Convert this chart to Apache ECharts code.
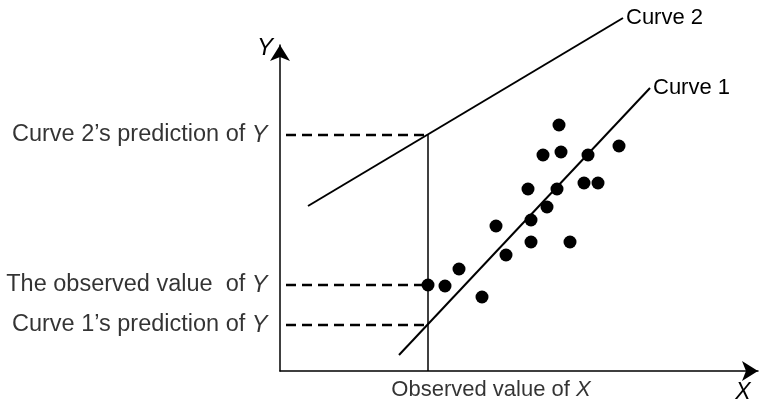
<!DOCTYPE html>
<html>
<head>
<meta charset="utf-8">
<script src="https://cdn.jsdelivr.net/npm/echarts@6/dist/echarts.min.js"></script>
<style>
  html, body { margin: 0; padding: 0; background: #fff; }
  #chart { width: 766px; height: 409px; }
</style>
</head>
<body>
<div id="chart"></div>
<script>
// observed points (x, y) in plot units
const dotX = [148, 165, 179, 202, 216, 226, 248, 251, 251, 267, 277, 263, 281, 279, 290, 304, 318, 308, 339];
const dotY = [86, 85, 102, 74, 145, 116, 182, 151, 129, 164, 182, 216, 219, 246, 129, 188, 188, 216, 225];

// the two fitted lines, start and end point
const curve1 = [[119, 16], [370, 283]];
const curve2 = [[28, 165], [343, 353]];

// observed X and the guide lines to the Y axis
const obsX = 148;
const guideStartX = 6;
const guideY = [236, 86, 46];
const guideText = [
    'Curve 2\u2019s prediction of {i|Y}',
    'The observed value  of {i|Y}',
    'Curve 1\u2019s prediction of {i|Y}'
];
const xText = 'Observed value of {i|X}';

const FONT = "'Liberation Sans', Arial, sans-serif";

function italic(size) {
    return { i: { fontStyle: 'italic', fontSize: size, fontFamily: FONT, color: '#000' } };
}

var chart = echarts.init(document.getElementById('chart'));

var series = [];

// curves
[['Curve 1', curve1], ['Curve 2', curve2]].forEach(function (c) {
    series.push({
        name: c[0],
        type: 'line',
        data: c[1],
        symbol: 'none',
        silent: true,
        clip: false,
        lineStyle: { color: '#000', width: 2 },
        endLabel: {
            show: true,
            formatter: '{a}',
            distance: 3,
            color: '#000',
            fontSize: 22,
            fontFamily: FONT
        },
        z: 2
    });
});

// dashed guides
guideY.forEach(function (y) {
    series.push({
        type: 'line',
        data: [[guideStartX, y], [obsX, y]],
        symbol: 'none',
        silent: true,
        lineStyle: { color: '#000', width: 2.5, type: [10, 6] },
        z: 2
    });
});

// vertical line at observed X
series.push({
    type: 'line',
    data: [[obsX, 0], [obsX, guideY[0]]],
    symbol: 'none',
    silent: true,
    lineStyle: { color: '#000', width: 1.5 },
    z: 2
});

// text anchors for the guide labels
series.push({
    type: 'scatter',
    silent: true,
    symbolSize: 1,
    itemStyle: { color: 'transparent' },
    data: guideY.map(function (y, i) {
        return {
            value: [guideStartX, y],
            label: {
                show: true,
                position: 'left',
                distance: 18,
                formatter: guideText[i],
                color: '#000',
                fontSize: 23.5,
                fontFamily: FONT,
                rich: italic(23.5)
            }
        };
    }).concat([{
        value: [obsX, 0],
        label: {
            show: true,
            position: 'bottom',
            distance: 7,
            offset: [63, 0],
            formatter: xText,
            color: '#000',
            fontSize: 22,
            fontFamily: FONT,
            rich: italic(22)
        }
    }]),
    z: 1
});

// observed points
series.push({
    type: 'scatter',
    silent: true,
    symbolSize: 13,
    itemStyle: { color: '#000', opacity: 1 },
    data: dotX.map(function (x, i) { return [x, dotY[i]]; }),
    z: 5
});

var axisCommon = {
    type: 'value',
    axisTick: { show: false },
    axisLabel: { show: false },
    splitLine: { show: false },
    axisLine: {
        show: true,
        onZero: false,
        symbol: ['none', 'arrow'],
        symbolSize: [15, 16],
        lineStyle: { color: '#000', width: 1.5 }
    }
};

chart.setOption({
    animation: false,
    backgroundColor: '#fff',
    grid: { left: 280, right: 8, top: 45, bottom: 38 },
    xAxis: Object.assign({}, axisCommon, {
        min: 0,
        max: 478,
        name: 'X',
        nameLocation: 'end',
        nameGap: -15,
        nameTextStyle: {
            fontStyle: 'italic', fontSize: 23, fontFamily: FONT, color: '#000',
            align: 'center', verticalAlign: 'top', padding: [10, 0, 0, 0]
        }
    }),
    yAxis: Object.assign({}, axisCommon, {
        min: 0,
        max: 326,
        name: 'Y',
        nameLocation: 'end',
        nameGap: -3,
        nameTextStyle: {
            fontStyle: 'italic', fontSize: 24, fontFamily: FONT, color: '#000',
            align: 'right', verticalAlign: 'middle', padding: [0, 7, 0, 0]
        }
    }),
    series: series
});
</script>
</body>
</html>
